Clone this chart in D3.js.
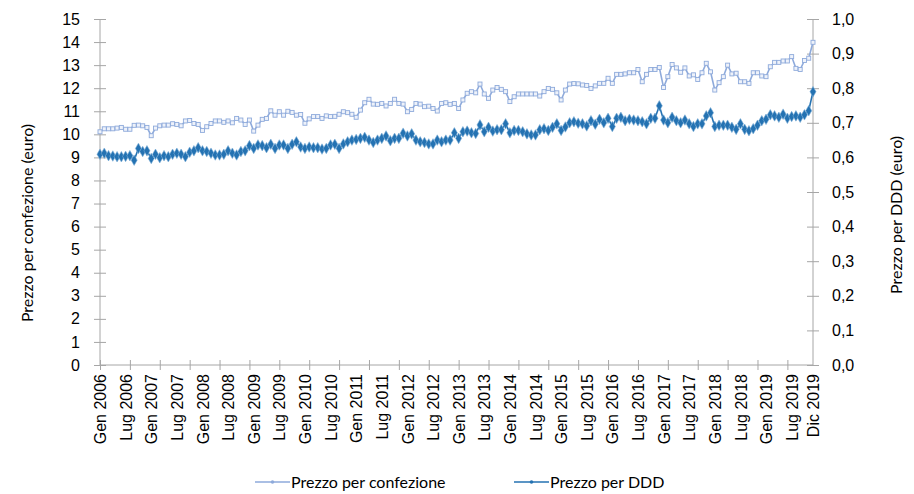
<!DOCTYPE html>
<html>
<head>
<meta charset="utf-8">
<script src="https://cdn.jsdelivr.net/npm/d3@7"></script>
<style>
  body { margin: 0; background: #fff; }
  svg { font-family: Lato, "Liberation Sans", sans-serif; }
  .axis path, .axis line { stroke: #a6a6a6; }
  .axis text { fill: #000; font-size: 16px; }
</style>
</head>
<body>
<svg width="914" height="494"></svg>
<script>
// months and years used to build the monthly categories
var monthNames = ["Gen", "Feb", "Mar", "Apr", "Mag", "Giu", "Lug", "Ago", "Set", "Ott", "Nov", "Dic"];
var years = [2006, 2007, 2008, 2009, 2010, 2011, 2012, 2013, 2014, 2015, 2016, 2017, 2018, 2019];

// prezzo per confezione (euro), left axis
var prezzoConfezione = [
  10.11, 10.24, 10.24, 10.24, 10.27, 10.30, 10.22, 10.22, 10.39, 10.40, 10.37, 10.30,
  9.94, 10.27, 10.37, 10.40, 10.40, 10.46, 10.43, 10.37, 10.58, 10.60, 10.47, 10.43,
  10.17, 10.33, 10.47, 10.58, 10.58, 10.52, 10.58, 10.50, 10.69, 10.62, 10.43, 10.62,
  10.14, 10.40, 10.65, 10.69, 11.02, 10.83, 10.98, 10.83, 11.00, 10.95, 10.83, 10.86,
  10.48, 10.67, 10.77, 10.77, 10.69, 10.80, 10.77, 10.78, 10.87, 10.98, 10.94, 10.87,
  10.74, 11.05, 11.37, 11.52, 11.31, 11.30, 11.34, 11.23, 11.34, 11.52, 11.34, 11.31,
  10.98, 11.08, 11.34, 11.31, 11.20, 11.22, 11.12, 11.01, 11.34, 11.37, 11.30, 11.34,
  11.12, 11.49, 11.78, 11.85, 11.80, 12.18, 11.75, 11.56, 11.92, 12.03, 11.95, 11.85,
  11.42, 11.63, 11.75, 11.75, 11.75, 11.75, 11.75, 11.66, 11.85, 11.99, 11.95, 11.80,
  11.49, 11.92, 12.18, 12.20, 12.19, 12.14, 12.12, 11.99, 12.10, 12.21, 12.21, 12.43,
  12.21, 12.60, 12.60, 12.62, 12.67, 12.67, 12.81, 12.28, 12.60, 12.81, 12.81, 12.90,
  12.03, 12.50, 13.03, 12.88, 12.69, 12.88, 12.53, 12.58, 12.38, 12.67, 13.08, 12.71,
  11.92, 12.24, 12.50, 13.00, 12.62, 12.65, 12.28, 12.28, 12.21, 12.67, 12.67, 12.53,
  12.50, 12.93, 13.12, 13.12, 13.18, 13.18, 13.37, 12.86, 12.81, 13.20, 13.30, 13.99
];

// prezzo per DDD (euro), right axis
var prezzoDDD = [
  0.609, 0.612, 0.605, 0.604, 0.602, 0.602, 0.603, 0.605, 0.592, 0.626, 0.617, 0.619,
  0.597, 0.609, 0.599, 0.605, 0.602, 0.609, 0.612, 0.609, 0.602, 0.615, 0.619, 0.628,
  0.619, 0.617, 0.612, 0.607, 0.607, 0.609, 0.619, 0.612, 0.607, 0.617, 0.619, 0.634,
  0.626, 0.636, 0.634, 0.628, 0.638, 0.626, 0.636, 0.636, 0.626, 0.638, 0.645, 0.630,
  0.626, 0.630, 0.628, 0.628, 0.624, 0.626, 0.636, 0.638, 0.626, 0.639, 0.645, 0.650,
  0.652, 0.655, 0.658, 0.650, 0.643, 0.650, 0.655, 0.662, 0.648, 0.655, 0.655, 0.670,
  0.662, 0.668, 0.650, 0.645, 0.643, 0.639, 0.639, 0.650, 0.645, 0.650, 0.650, 0.671,
  0.655, 0.674, 0.676, 0.671, 0.669, 0.694, 0.674, 0.687, 0.676, 0.680, 0.680, 0.697,
  0.671, 0.678, 0.678, 0.674, 0.668, 0.665, 0.665, 0.680, 0.683, 0.678, 0.687, 0.697,
  0.678, 0.688, 0.700, 0.703, 0.699, 0.697, 0.691, 0.706, 0.696, 0.710, 0.700, 0.713,
  0.689, 0.713, 0.716, 0.706, 0.710, 0.708, 0.706, 0.703, 0.697, 0.713, 0.713, 0.749,
  0.708, 0.700, 0.716, 0.706, 0.700, 0.708, 0.697, 0.689, 0.697, 0.697, 0.720, 0.729,
  0.689, 0.693, 0.693, 0.693, 0.687, 0.681, 0.697, 0.681, 0.677, 0.683, 0.693, 0.706,
  0.710, 0.723, 0.720, 0.716, 0.725, 0.713, 0.718, 0.720, 0.716, 0.723, 0.735, 0.790
];

var leftTicks = [0, 1, 2, 3, 4, 5, 6, 7, 8, 9, 10, 11, 12, 13, 14, 15];
var rightTicks = [0, 0.1, 0.2, 0.3, 0.4, 0.5, 0.6, 0.7, 0.8, 0.9, 1.0];
var seriesNames = ["Prezzo per confezione", "Prezzo per DDD"];

var categories = [];
years.forEach(function(y) {
  monthNames.forEach(function(m) { categories.push(m + " " + y); });
});

var colConf = "#8eaadb",
    colDDD = "#2472b2";

var svg = d3.select("svg");

var x = d3.scalePoint()
    .domain(categories)
    .range([100, 813]);

var yL = d3.scaleLinear().domain([0, 15]).range([365, 19]);
var yR = d3.scaleLinear().domain([0, 1]).range([365, 19]);

// left axis
var gl = svg.append("g")
    .attr("class", "axis")
    .attr("transform", "translate(100,0)")
    .call(d3.axisLeft(yL).tickValues(leftTicks).tickSize(6).tickPadding(14).tickFormat(d3.format("d")));
gl.selectAll(".tick line").attr("x1", 6);
gl.select(".domain").attr("d", "M0,19V365");

// right axis
var fmtComma = function(d) { return d3.format(".1f")(d).replace(".", ","); };
var gr = svg.append("g")
    .attr("class", "axis")
    .attr("transform", "translate(813,0)")
    .call(d3.axisRight(yR).tickValues(rightTicks).tickSize(6).tickPadding(13).tickFormat(fmtComma));
gr.selectAll(".tick line").attr("x1", -6);
gr.select(".domain").attr("d", "M0,19V365");

// x axis: tick marks every 7 months
var tickCats = categories.filter(function(d, i) { return i % 7 === 0; });
var gx = svg.append("g")
    .attr("class", "axis")
    .attr("transform", "translate(0,365)")
    .call(d3.axisBottom(x).tickValues(tickCats).tickSize(5).tickFormat(""));
gx.selectAll(".tick line").attr("y1", -5);
gx.select(".domain").attr("d", "M100,0H813");

// x labels every 6 months plus the last month
var labelCats = categories.filter(function(d, i) { return i % 6 === 0 || i === categories.length - 1; });
var gxl = svg.append("g")
    .attr("class", "axis")
    .attr("transform", "translate(0,365)")
    .call(d3.axisBottom(x).tickValues(labelCats).tickSize(0));
gxl.select(".domain").remove();
gxl.selectAll("text")
    .attr("transform", "rotate(-90)")
    .attr("text-anchor", "end")
    .attr("x", -9)
    .attr("y", 0)
    .attr("dy", "0.35em");

// axis titles
svg.append("text")
    .attr("transform", "translate(33,223) rotate(-90)")
    .attr("text-anchor", "middle")
    .style("font-size", "16px")
    .text("Prezzo per confezione (euro)");

svg.append("text")
    .attr("transform", "translate(902,215) rotate(-90)")
    .attr("text-anchor", "middle")
    .style("font-size", "16px")
    .text("Prezzo per DDD (euro)");

// lines
var lineL = d3.line()
    .x(function(d, i) { return x(categories[i]); })
    .y(function(d) { return yL(d); });
var lineR = d3.line()
    .x(function(d, i) { return x(categories[i]); })
    .y(function(d) { return yR(d); });

svg.append("path")
    .datum(prezzoConfezione)
    .attr("fill", "none")
    .attr("stroke", colConf)
    .attr("stroke-width", 1.6)
    .attr("d", lineL);

svg.selectAll(".mConf")
    .data(prezzoConfezione)
    .enter().append("rect")
    .attr("class", "mConf")
    .attr("x", function(d, i) { return x(categories[i]) - 2; })
    .attr("y", function(d) { return yL(d) - 2; })
    .attr("width", 4)
    .attr("height", 4)
    .attr("fill", "#eef2fa")
    .attr("stroke", colConf)
    .attr("stroke-width", 0.9);

svg.append("path")
    .datum(prezzoDDD)
    .attr("fill", "none")
    .attr("stroke", colDDD)
    .attr("stroke-width", 1.6)
    .attr("d", lineR);

var diamond = d3.symbol().type(d3.symbolDiamond).size(32);
svg.selectAll(".mDDD")
    .data(prezzoDDD)
    .enter().append("path")
    .attr("class", "mDDD")
    .attr("d", diamond)
    .attr("transform", function(d, i) { return "translate(" + x(categories[i]) + "," + yR(d) + ")"; })
    .attr("fill", colDDD)
    .attr("stroke", "#7fb0d8")
    .attr("stroke-width", 0.6);

// legend
var legend = [
  {name: seriesNames[0], color: colConf, x0: 255},
  {name: seriesNames[1], color: colDDD, x0: 514}
];
var lg = svg.selectAll(".leg")
    .data(legend)
    .enter().append("g")
    .attr("class", "leg")
    .attr("transform", function(d) { return "translate(" + d.x0 + ",482)"; });
lg.append("line")
    .attr("x1", 0).attr("x2", 35)
    .attr("stroke", function(d) { return d.color; })
    .attr("stroke-width", 1.6);
lg.append("circle")
    .attr("cx", 17.5)
    .attr("r", 1.8)
    .attr("fill", function(d) { return d.color; });
lg.append("text")
    .attr("x", 36)
    .attr("dy", "0.35em")
    .style("font-size", "16px")
    .text(function(d) { return d.name; });
</script>
</body>
</html>
